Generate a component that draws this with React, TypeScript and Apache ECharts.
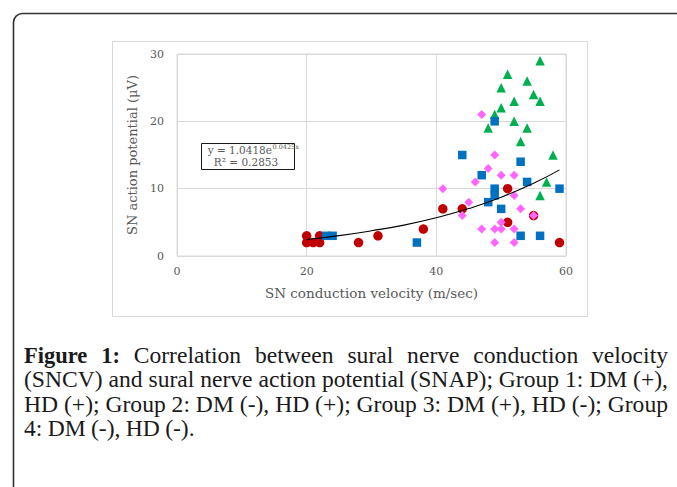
import React, { useEffect, useRef } from "react";
import * as echarts from "echarts";

// ---- data ----
const xTicks = [0, 20, 40, 60];
const yTicks = [0, 10, 20, 30];

const redCircles: [number, number][] = [
  [20, 3], [20, 2], [21, 2], [22, 3], [22, 2], [28, 2], [31, 3], [38, 4],
  [41, 7], [44, 7], [51, 10], [51, 5], [55, 6], [59, 2],
];
const greenTriangles: [number, number][] = [
  [56, 29], [51, 27], [54, 26], [50, 25], [55, 24], [52, 23], [56, 23], [50, 22],
  [49, 21], [52, 20], [48, 19], [54, 19], [53, 17], [58, 15], [57, 11], [56, 9],
];
const blueSquares: [number, number][] = [
  [23, 3], [24, 3], [37, 2], [44, 15], [47, 12], [48, 8], [49, 20], [49, 10],
  [49, 9], [50, 7], [53, 14], [53, 3], [54, 11], [56, 3], [59, 10],
];
const pinkDiamonds: [number, number][] = [
  [47, 21], [41, 10], [45, 8], [44, 6], [46, 11], [48, 13], [49, 15], [50, 12],
  [52, 12], [52, 9], [53, 7], [47, 4], [49, 4], [50, 4], [50, 5], [52, 4],
  [49, 2], [52, 2], [55, 6],
];
const trendX = [20, 25, 30, 35, 40, 45, 50, 55, 59];
const trendY = [2.44, 3.02, 3.75, 4.59, 5.69, 7.05, 8.73, 10.8, 12.79];

const equationMain = "y = 1.0418e";
const equationExp = "0.0425x";
const equationR2 = "R² = 0.2853";

const xAxisTitle = "SN conduction velocity (m/sec)";
const yAxisTitle = "SN action potential (μV)";

const captionLines = [
  "Figure 1: Correlation between sural nerve conduction velocity",
  "(SNCV) and sural nerve action potential (SNAP); Group 1: DM (+),",
  "HD (+); Group 2: DM (-), HD (+); Group 3: DM (+), HD (-); Group",
  "4: DM (-), HD (-).",
];

const CAP_FAMILY = '"Liberation Serif", "Times New Roman", serif';
const CAP_SIZE = 23.6;
const CAP_BOLD_SIZE = 22.5;
const CAP_LEFT = 24;
const CAP_RIGHT = 668;
const CAP_Y0 = 355;
const CAP_LH = 24.3;

function buildCaption(): any[] {
  const els: any[] = [];
  const canvas = document.createElement("canvas");
  const ctx = canvas.getContext("2d") as CanvasRenderingContext2D;
  captionLines.forEach((line, i) => {
    const words = line.split(" ");
    const y = CAP_Y0 + i * CAP_LH;
    const bold = words.map((_, j) => i === 0 && j < 2);
    const widths = words.map((w, j) => {
      ctx.font = bold[j]
        ? `bold ${CAP_BOLD_SIZE}px ${CAP_FAMILY}`
        : `normal ${CAP_SIZE}px ${CAP_FAMILY}`;
      return ctx.measureText(w).width;
    });
    ctx.font = `normal ${CAP_SIZE}px ${CAP_FAMILY}`;
    const space = ctx.measureText(" ").width * 0.9;
    const total = widths.reduce((a, b) => a + b, 0);
    const justify = i < captionLines.length - 1;
    const gap = justify ? (CAP_RIGHT - CAP_LEFT - total) / (words.length - 1) : space;
    let x = CAP_LEFT;
    words.forEach((w, j) => {
      els.push({
        type: "text",
        x,
        y,
        z: 20,
        style: {
          text: w,
          fontSize: bold[j] ? CAP_BOLD_SIZE : CAP_SIZE,
          fontFamily: CAP_FAMILY,
          fontWeight: bold[j] ? "bold" : "normal",
          fill: "#1a1a1a",
          align: "left",
          verticalAlign: "middle",
          textAlign: "left",
          textVerticalAlign: "middle",
        },
      });
      x += widths[j] + gap;
    });
  });
  return els;
}

const AXIS_FONT = '"DejaVu Serif", "Liberation Serif", serif';

export default function App() {
  const ref = useRef<HTMLDivElement>(null);
  useEffect(() => {
    if (!ref.current) return;
    const chart = echarts.init(ref.current, undefined, { renderer: "svg" });
    const option: any = {
      animation: false,
      backgroundColor: "#ffffff",
      grid: {
        left: 177,
        top: 54,
        right: 111,
        bottom: 231,
        show: true,
        borderColor: "#d9d9d9",
        borderWidth: 1,
        backgroundColor: "transparent",
      },
      xAxis: {
        type: "value",
        min: xTicks[0],
        max: xTicks[xTicks.length - 1],
        interval: xTicks[1] - xTicks[0],
        axisLine: { show: false },
        axisTick: { show: false },
        splitLine: { show: true, lineStyle: { color: "#d9d9d9", width: 1 } },
        axisLabel: { color: "#595959", fontSize: 11, fontFamily: AXIS_FONT, margin: 10 },
        name: xAxisTitle,
        nameLocation: "middle",
        nameGap: 37,
        nameTextStyle: {
          color: "#595959",
          fontSize: 13.5,
          fontFamily: AXIS_FONT,
          verticalAlign: "middle",
        },
      },
      yAxis: {
        type: "value",
        min: yTicks[0],
        max: yTicks[yTicks.length - 1],
        interval: yTicks[1] - yTicks[0],
        axisLine: { show: false },
        axisTick: { show: false },
        splitLine: { show: true, lineStyle: { color: "#d9d9d9", width: 1 } },
        axisLabel: { color: "#595959", fontSize: 11, fontFamily: AXIS_FONT, margin: 13 },
        name: yAxisTitle,
        nameLocation: "middle",
        nameGap: 41,
        nameTextStyle: {
          color: "#595959",
          fontSize: 13,
          fontFamily: AXIS_FONT,
          verticalAlign: "middle",
        },
      },
      series: [
        {
          name: "Group red",
          type: "scatter",
          data: redCircles,
          symbol: "circle",
          symbolSize: 9.5,
          itemStyle: { color: "#c00000", opacity: 1 },
          z: 2,
        },
        {
          name: "Group green",
          type: "scatter",
          data: greenTriangles,
          symbol: "triangle",
          symbolSize: 9.5,
          itemStyle: { color: "#00b050", opacity: 1 },
          z: 3,
        },
        {
          name: "Group blue",
          type: "scatter",
          data: blueSquares,
          symbol: "rect",
          symbolSize: 8.5,
          itemStyle: { color: "#0070c0", opacity: 1 },
          z: 4,
        },
        {
          name: "Group pink",
          type: "scatter",
          data: pinkDiamonds,
          symbol: "diamond",
          symbolSize: 9,
          itemStyle: { color: "#ff66ff", opacity: 1 },
          z: 5,
        },
        {
          name: "Trend",
          type: "line",
          data: trendX.map((x, i) => [x, trendY[i]]),
          smooth: true,
          symbol: "none",
          lineStyle: { color: "#000000", width: 1.1 },
          z: 6,
        },
      ],
      graphic: [
        {
          type: "rect",
          z: -10,
          silent: true,
          shape: { x: 13.5, y: 13.5, width: 700, height: 520, r: 9 },
          style: { fill: "none", stroke: "#333333", lineWidth: 1.6 },
        },
        {
          type: "rect",
          z: -10,
          silent: true,
          shape: { x: 112.5, y: 41.5, width: 475, height: 275 },
          style: { fill: "none", stroke: "#d9d9d9", lineWidth: 1 },
        },
        {
          type: "rect",
          z: 10,
          silent: true,
          shape: { x: 201.5, y: 143.5, width: 93, height: 26 },
          style: { fill: "#ffffff", stroke: "#1a1a1a", lineWidth: 1 },
        },
        {
          type: "text",
          z: 11,
          x: 272,
          y: 150,
          style: {
            text: equationMain,
            fontSize: 10.5,
            fontFamily: AXIS_FONT,
            fill: "#595959",
            align: "right",
            verticalAlign: "middle",
            textAlign: "right",
            textVerticalAlign: "middle",
          },
        },
        {
          type: "text",
          z: 11,
          x: 272.5,
          y: 146.5,
          style: {
            text: equationExp,
            fontSize: 6.5,
            fontFamily: AXIS_FONT,
            fill: "#595959",
            align: "left",
            verticalAlign: "middle",
            textAlign: "left",
            textVerticalAlign: "middle",
          },
        },
        {
          type: "text",
          z: 11,
          x: 246,
          y: 162,
          style: {
            text: equationR2,
            fontSize: 10.5,
            fontFamily: AXIS_FONT,
            fill: "#595959",
            align: "center",
            verticalAlign: "middle",
            textAlign: "center",
            textVerticalAlign: "middle",
          },
        },
        ...buildCaption(),
      ],
    };
    chart.setOption(option);
    return () => chart.dispose();
  }, []);
  return (
    <div
      ref={ref}
      style={{ position: "fixed", left: 0, top: 0, width: 677, height: 487, background: "#fff" }}
    />
  );
}
